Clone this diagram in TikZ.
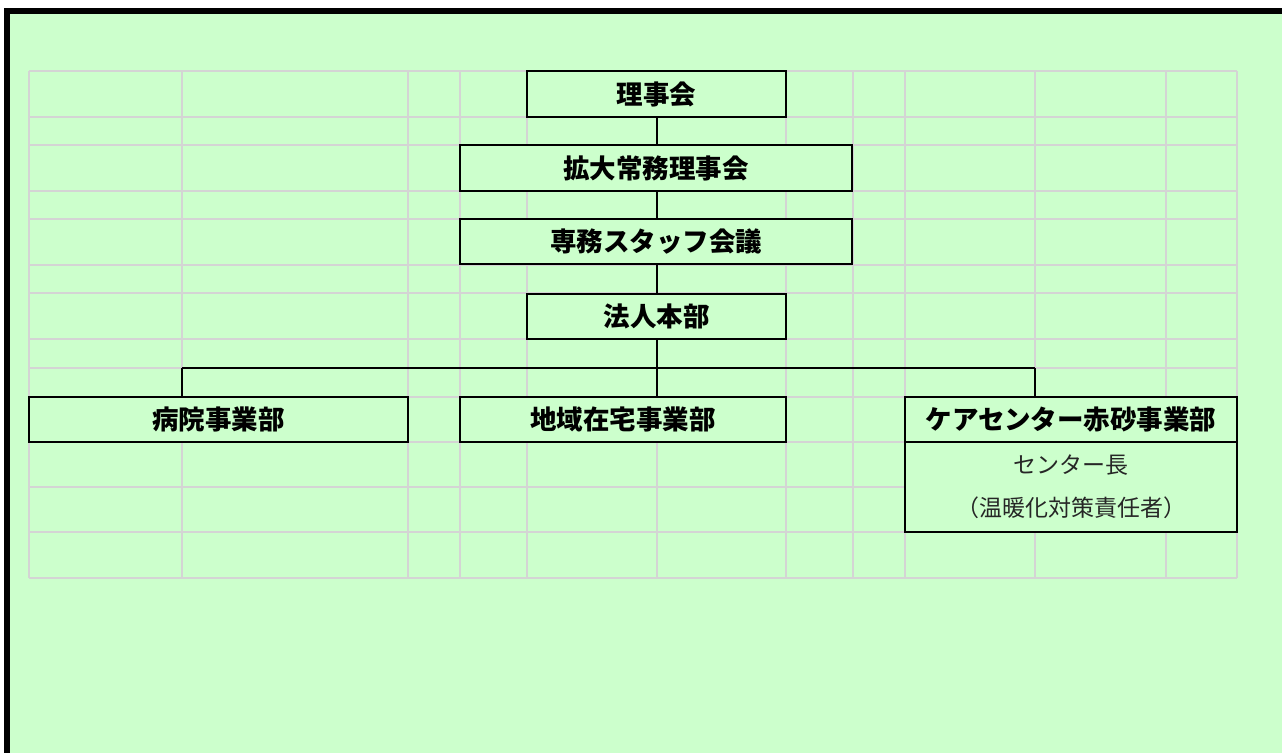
\documentclass[tikz,border=0pt]{standalone}
\usepackage{fontspec}
\setmainfont{Noto Sans CJK JP}
\definecolor{bg}{HTML}{CCFFCC}
\definecolor{gridgray}{HTML}{D4D4D4}
\begin{document}
\begin{tikzpicture}[x=1pt,y=-1pt,
  gridline/.style={draw=gridgray,line width=1.6pt},
  orgbox/.style={draw=black,line width=1.8pt,fill=bg,inner sep=0pt,
    font=\fontsize{26.5}{30}\selectfont\bfseries},
  subbox/.style={draw=black,line width=1.8pt,fill=bg,inner sep=0pt,align=center,
    text=black!85,font=\fontsize{23}{43}\selectfont},
  conn/.style={draw=black,line width=1.8pt}]
\useasboundingbox (0,0) rectangle (1282,753);
% frame
\fill[white] (0,0) rectangle (1282,753);
\fill[black] (4,8) rectangle (1282,753);
\fill[bg] (10,14) rectangle (1282,753);
% grid
\foreach \x in {29,182,408,460,527,657,786,853,905,1035,1166,1237}
  \draw[gridline] (\x,71) -- (\x,578);
\foreach \y in {71,117,145,191,219,265,293,339,368,397,442,487,532,578}
  \draw[gridline] (29,\y) -- (1237,\y);
% boxes
\node[orgbox,minimum width=259pt,minimum height=46pt] (riji) at (656.5,94) {理事会};
\node[orgbox,minimum width=392pt,minimum height=46pt] (kakudai) at (656,168) {拡大常務理事会};
\node[orgbox,minimum width=392pt,minimum height=45pt] (senmu) at (656,241.5) {専務スタッフ会議};
\node[orgbox,minimum width=259pt,minimum height=45pt] (honbu) at (656.5,316.5) {法人本部};
\node[orgbox,minimum width=379pt,minimum height=45pt] (hosp) at (218.5,419.5) {病院事業部};
\node[orgbox,minimum width=326pt,minimum height=45pt] (chiiki) at (623,419.5) {地域在宅事業部};
\node[orgbox,minimum width=332pt,minimum height=45pt] (care) at (1071,419.5) {ケアセンター赤砂事業部};
\node[subbox,minimum width=332pt,minimum height=90pt] (chief) at (1071,487) {センター長\\（温暖化対策責任者）};
% connectors
\coordinate (bj) at (657,368);
\coordinate (bl) at (182,368);
\coordinate (br) at (1035,368);
\draw[conn] (bj |- riji.south) -- (bj |- kakudai.north);
\draw[conn] (bj |- kakudai.south) -- (bj |- senmu.north);
\draw[conn] (bj |- senmu.south) -- (bj |- honbu.north);
\draw[conn] (bj |- honbu.south) -- (bj);
\draw[conn] (bl) -- (br);
\draw[conn] (bl) -- (bl |- hosp.north);
\draw[conn] (bj) -- (bj |- chiiki.north);
\draw[conn] (br) -- (br |- care.north);
\end{tikzpicture}
\end{document}
